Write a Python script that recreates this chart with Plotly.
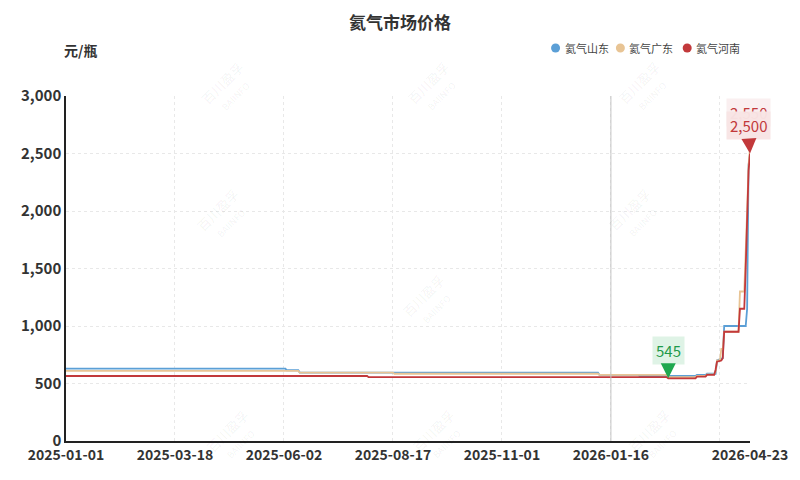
import plotly.graph_objects as go
import numpy as np

# ---------------- data ----------------
series_names = ["氦气山东", "氦气广东", "氦气河南"]
series_colors = ["#5b9fd6", "#e8c494", "#c2393b"]

sd_dates = ["2025-01-01", "2025-06-03", "2025-06-04", "2025-06-12", "2025-06-13",
            "2026-01-07", "2026-01-08", "2026-02-04", "2026-02-05", "2026-03-16",
            "2026-03-17", "2026-03-23", "2026-03-24", "2026-03-30", "2026-03-31",
            "2026-04-04", "2026-04-05", "2026-04-20", "2026-04-21", "2026-04-22",
            "2026-04-23"]
sd_values = [630, 630, 615, 615, 595,
             595, 575, 575, 565, 565,
             575, 575, 585, 585, 700,
             720, 1000, 1000, 1150, 2400,
             2500]

gd_dates = ["2025-01-01", "2025-06-12", "2025-06-13", "2025-08-17", "2025-08-18",
            "2026-01-07", "2026-01-08", "2026-02-24", "2026-02-25", "2026-03-16",
            "2026-03-17", "2026-03-23", "2026-03-24", "2026-03-29", "2026-03-30",
            "2026-03-31", "2026-04-02", "2026-04-03", "2026-04-04", "2026-04-05",
            "2026-04-15", "2026-04-16", "2026-04-19", "2026-04-20", "2026-04-21",
            "2026-04-22", "2026-04-23"]
gd_values = [610, 610, 595, 595, 585,
             585, 575, 575, 555, 555,
             565, 565, 580, 580, 600,
             700, 700, 800, 800, 950,
             950, 1300, 1300, 1600, 2000,
             2400, 2550]

hn_dates = ["2025-01-01", "2025-07-30", "2025-07-31", "2026-02-24", "2026-02-25",
            "2026-03-16", "2026-03-17", "2026-03-23", "2026-03-24", "2026-03-29",
            "2026-03-30", "2026-03-31", "2026-04-03", "2026-04-04", "2026-04-05",
            "2026-04-15", "2026-04-16", "2026-04-19", "2026-04-20", "2026-04-21",
            "2026-04-22", "2026-04-23"]
hn_values = [565, 565, 555, 555, 545,
             545, 560, 560, 575, 575,
             620, 690, 700, 720, 950,
             950, 1150, 1150, 1500, 1850,
             2350, 2500]

x_tickvals = ["2025-01-01", "2025-03-18", "2025-06-02", "2025-08-17", "2025-11-01",
              "2026-01-16", "2026-04-02", "2026-04-23"]
x_ticktext = ["2025-01-01", "2025-03-18", "2025-06-02", "2025-08-17", "2025-11-01",
              "2026-01-16", "", "2026-04-23"]
y_tickvals = [0, 500, 1000, 1500, 2000, 2500, 3000]

all_dates = [sd_dates, gd_dates, hn_dates]
all_values = [sd_values, gd_values, hn_values]

FONT = "Noto Sans CJK SC"

fig = go.Figure()
for name, d, v, c in zip(series_names, all_dates, all_values, series_colors):
    fig.add_trace(go.Scatter(x=d, y=v, name=name, mode="lines",
                             line=dict(color=c, width=1.8), showlegend=False,
                             cliponaxis=False, hoverinfo="x+y+name"))

# ---- mark points (min of Henan, max labels at end) ----
hn_arr = np.array(hn_values)
imin = int(np.argmin(hn_arr))
fig.add_annotation(x=hn_dates[imin], y=int(hn_arr[imin]), text=f"{int(hn_arr[imin]):,}",
                   showarrow=True, ax=0, ay=-28, arrowhead=2, arrowsize=1.5, arrowwidth=2,
                   arrowcolor="#1fa84f", standoff=0,
                   font=dict(family=FONT, size=15, color="#1f9a4b"),
                   bgcolor="rgba(31,168,79,0.14)", borderpad=3)

gd_arr = np.array(gd_values)
igmax = int(np.argmax(gd_arr))
fig.add_annotation(x=gd_dates[igmax], y=int(gd_arr[igmax]), text=f"{int(gd_arr[igmax]):,}",
                   showarrow=False, yshift=35, xshift=-2,
                   font=dict(family=FONT, size=15, color="#c2393b"),
                   bgcolor="rgba(194,57,59,0.08)", borderpad=3)
hn_max = int(np.argmax(hn_arr))
fig.add_annotation(x=hn_dates[hn_max], y=int(hn_arr[hn_max]), text=f"{int(hn_arr[hn_max]):,}",
                   showarrow=True, ax=-2, ay=-28, arrowhead=2, arrowsize=1.5, arrowwidth=2,
                   arrowcolor="#c2393b", standoff=0,
                   font=dict(family=FONT, size=15, color="#c2393b"),
                   bgcolor="rgba(248,228,228,0.97)", borderpad=3)

# ---- reference line at 2026-01-16 ----
fig.add_shape(type="line", x0=x_tickvals[5], x1=x_tickvals[5], y0=0, y1=1, yref="paper",
              line=dict(color="#c4c4c4", width=1))

# ---- manual legend ----
W, H = 686.0, 345.0
def px(x):
    return (x - 66) / W
def py(y):
    return (441 - y) / H
leg_x = [557, 622, 689]
for lx, name, c in zip(leg_x, series_names, series_colors):
    fig.add_shape(type="circle", xref="paper", yref="paper", xsizemode="pixel", ysizemode="pixel",
                  xanchor=px(lx), yanchor=py(48), x0=-4.5, x1=4.5, y0=-4.5, y1=4.5,
                  fillcolor=c, line=dict(width=0))
    fig.add_annotation(xref="paper", yref="paper", x=px(lx + 7), y=py(48), text=name,
                       showarrow=False, xanchor="left", yanchor="middle",
                       font=dict(family=FONT, size=11, color="#444"))

# ---- unit label ----
fig.add_annotation(xref="paper", yref="paper", x=px(62), y=py(50), text="<b>元/瓶</b>",
                   showarrow=False, xanchor="left", yanchor="middle",
                   font=dict(family=FONT, size=14, color="#333"))

# ---- watermarks ----
wm = [(195, 55), (435, 55), (680, 55), (190, 215), (670, 215), (430, 335),
      (200, 470), (440, 470), (690, 470)]
for wx, wy in wm:
    fig.add_annotation(xref="paper", yref="paper", x=px(wx), y=py(wy),
                       text="百川盈孚<br><span style='font-size:9px'>BAIINFO</span>",
                       showarrow=False, textangle=-45,
                       font=dict(family=FONT, size=13, color="rgba(0,0,0,0.06)"))

fig.update_layout(
    width=800, height=480,
    margin=dict(l=66, r=48, t=96, b=39),
    paper_bgcolor="white", plot_bgcolor="white",
    title=dict(text="<b>氦气市场价格</b>", x=0.5, xanchor="center", y=1 - 23 / 480,
               yanchor="middle", font=dict(family=FONT, size=17, color="#333")),
    showlegend=False,
    xaxis=dict(type="date", range=["2025-01-01", "2026-04-23"],
               tickvals=x_tickvals, ticktext=x_ticktext,
               showgrid=True, gridcolor="#e8e8e8", griddash="3px,3px", gridwidth=1,
               showline=True, linecolor="#222", linewidth=1.5, ticks="",
               tickfont=dict(family=FONT, size=14, color="#333", weight="bold"),
               zeroline=False),
    yaxis=dict(range=[0, 3000], tickvals=y_tickvals, tickformat=",",
               showgrid=True, gridcolor="#e8e8e8", griddash="3px,3px", gridwidth=1,
               showline=True, linecolor="#222", linewidth=1.5, ticks="",
               tickfont=dict(family=FONT, size=15, color="#333", weight="bold"),
               zeroline=False),
)

fig.write_html("out.html")
